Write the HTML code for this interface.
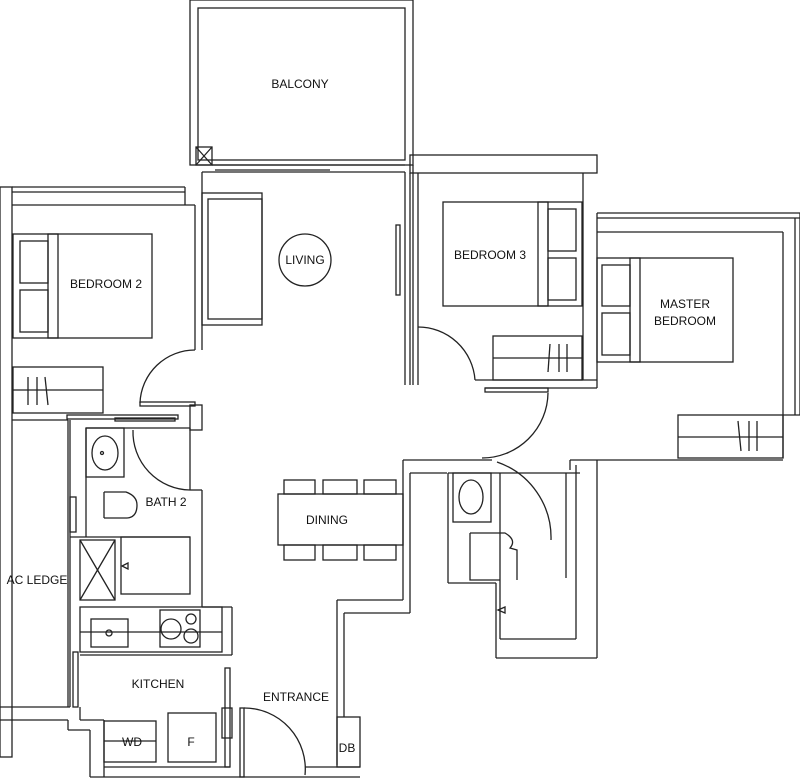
<!DOCTYPE html>
<html><head><meta charset="utf-8"><style>
html,body{margin:0;padding:0;background:#fff;}
svg{display:block;}
text{font-family:"Liberation Sans",sans-serif;font-size:12px;fill:#111;text-anchor:middle;}
</style></head><body>
<svg width="800" height="781" viewBox="0 0 800 781" xmlns="http://www.w3.org/2000/svg">
<g fill="none" stroke="#222" stroke-width="1.3">
<!-- Balcony -->
<rect x="190" y="0" width="223" height="165"/>
<rect x="198" y="8" width="207" height="152"/>
<rect x="196" y="147" width="16" height="18"/>
<line x1="196" y1="147" x2="212" y2="165"/><line x1="212" y1="147" x2="196" y2="165"/>
<line x1="212" y1="165" x2="405" y2="165"/><line x1="215" y1="170" x2="330" y2="170"/>
<!-- Living walls -->
<line x1="202" y1="172" x2="405" y2="172"/>
<line x1="202" y1="172" x2="202" y2="350"/>
<line x1="195" y1="205" x2="195" y2="350"/>
<line x1="413" y1="165" x2="413" y2="385"/>
<line x1="405" y1="172" x2="405" y2="385"/>
<rect x="396" y="225" width="4" height="70"/>
<!-- Sofa -->
<rect x="202" y="193" width="60" height="132"/>
<rect x="208" y="199" width="54" height="120"/>
<circle cx="305" cy="260" r="26"/>
<!-- Bedroom 2 -->
<rect x="0" y="187" width="12" height="570"/>
<line x1="12" y1="187" x2="185" y2="187"/><line x1="12" y1="192" x2="185" y2="192"/>
<line x1="185" y1="187" x2="185" y2="205"/>
<line x1="12" y1="205" x2="195" y2="205"/>
<rect x="13" y="234" width="139" height="104"/>
<rect x="48" y="234" width="10" height="104"/>
<rect x="20" y="241" width="28" height="42"/><rect x="20" y="290" width="28" height="42"/>
<rect x="13" y="367" width="90" height="46"/><line x1="13" y1="390" x2="103" y2="390"/>
<line x1="28" y1="377" x2="28" y2="405"/><line x1="37" y1="377" x2="37" y2="405"/><line x1="45" y1="377" x2="48" y2="405"/>
<path d="M140 403 A55 55 0 0 1 195 350"/>
<rect x="140" y="402" width="55" height="4"/>
<line x1="12" y1="420" x2="68" y2="420"/>
<rect x="67" y="415" width="111" height="4"/>
<rect x="115" y="418" width="60" height="3"/>
<rect x="190" y="405" width="12" height="25"/>
<!-- Bedroom 3 -->
<rect x="410" y="155" width="187" height="18"/>
<line x1="418" y1="173" x2="418" y2="385"/><line x1="410" y1="173" x2="410" y2="385"/>
<line x1="583" y1="173" x2="583" y2="380"/>
<rect x="443" y="202" width="139" height="104"/>
<rect x="538" y="202" width="10" height="104"/>
<rect x="548" y="209" width="28" height="42"/><rect x="548" y="258" width="28" height="42"/>
<rect x="493" y="336" width="89" height="44"/><line x1="493" y1="358" x2="582" y2="358"/>
<line x1="550" y1="344" x2="548" y2="372"/><line x1="559" y1="344" x2="559" y2="372"/><line x1="567" y1="344" x2="567" y2="372"/>
<path d="M418 327 A57 57 0 0 1 475 380"/>
<line x1="475" y1="380" x2="597" y2="380"/><line x1="485" y1="388" x2="597" y2="388"/>
<!-- Master -->
<line x1="597" y1="213" x2="800" y2="213"/><line x1="597" y1="218" x2="800" y2="218"/>
<line x1="597" y1="213" x2="597" y2="388"/>
<line x1="597" y1="232" x2="783" y2="232"/>
<line x1="783" y1="232" x2="783" y2="458"/>
<line x1="795" y1="218" x2="795" y2="415"/><line x1="800" y1="213" x2="800" y2="415"/>
<line x1="783" y1="415" x2="800" y2="415"/>
<rect x="597" y="258" width="136" height="104"/>
<rect x="630" y="258" width="10" height="104"/>
<rect x="602" y="265" width="28" height="41"/><rect x="602" y="313" width="28" height="42"/>
<rect x="678" y="415" width="105" height="43"/><line x1="678" y1="437" x2="783" y2="437"/>
<line x1="738" y1="421" x2="741" y2="451"/><line x1="749" y1="421" x2="749" y2="451"/><line x1="757" y1="421" x2="757" y2="451"/>
<line x1="570" y1="460" x2="783" y2="460"/><line x1="570" y1="460" x2="570" y2="470"/>
<!-- corridor door -->
<rect x="485" y="388" width="63" height="4"/>
<path d="M548 393 A66 66 0 0 1 482 458"/>
<!-- right bath -->
<line x1="403" y1="460" x2="492" y2="460"/>
<line x1="410" y1="473" x2="447" y2="473"/>
<line x1="403" y1="460" x2="403" y2="600"/><line x1="410" y1="473" x2="410" y2="613"/>
<line x1="403" y1="600" x2="337" y2="600"/><line x1="410" y1="613" x2="344" y2="613"/>
<line x1="337" y1="600" x2="337" y2="765"/><line x1="344" y1="613" x2="344" y2="717"/>
<rect x="337" y="717" width="23" height="50"/>
<line x1="448" y1="473" x2="448" y2="583"/><line x1="448" y1="583" x2="496" y2="583"/>
<line x1="496" y1="583" x2="496" y2="658"/><line x1="496" y1="658" x2="597" y2="658"/>
<line x1="500" y1="473" x2="500" y2="639"/><line x1="500" y1="639" x2="576" y2="639"/>
<line x1="448" y1="473" x2="580" y2="473"/>
<line x1="566" y1="473" x2="566" y2="578"/><line x1="576" y1="465" x2="576" y2="639"/>
<line x1="597" y1="460" x2="597" y2="658"/>
<rect x="453" y="473" width="38" height="49"/>
<ellipse cx="471" cy="497" rx="12" ry="17"/>
<path d="M470 533 L505 533 Q517 540 510 548 L517 550 L517 580 M470 533 L470 580 L500 580"/>
<path d="M497 462 A80 80 0 0 1 551 540"/>
<path d="M505 607 L498 610 L505 613 Z"/>
<!-- Dining -->
<rect x="278" y="494" width="125" height="51"/>
<rect x="284" y="480" width="31" height="14"/><rect x="323" y="480" width="34" height="14"/><rect x="364" y="480" width="32" height="14"/>
<rect x="284" y="545" width="31" height="15"/><rect x="323" y="545" width="34" height="15"/><rect x="364" y="545" width="32" height="15"/>
<!-- Bath 2 / kitchen -->
<line x1="68" y1="420" x2="68" y2="707"/><line x1="70" y1="420" x2="70" y2="707"/>
<line x1="86" y1="428" x2="190" y2="428"/><line x1="86" y1="428" x2="86" y2="537"/>
<rect x="86" y="428" width="38" height="49"/>
<ellipse cx="105" cy="453" rx="13" ry="17"/><circle cx="102" cy="453" r="1.5"/>
<path d="M133 430 A58 58 0 0 0 190 490"/>
<line x1="190" y1="428" x2="190" y2="490"/><line x1="190" y1="490" x2="202" y2="490"/>
<line x1="202" y1="490" x2="202" y2="607"/><line x1="202" y1="607" x2="232" y2="607"/>
<line x1="232" y1="607" x2="232" y2="655"/>
<line x1="104" y1="492" x2="104" y2="518"/>
<path d="M104 492 L126 492 Q137 496 137 505 Q137 518 126 518 L104 518"/>
<rect x="70" y="497" width="6" height="35"/>
<line x1="70" y1="537" x2="190" y2="537"/>
<rect x="80" y="540" width="35" height="60"/>
<line x1="80" y1="540" x2="115" y2="600"/><line x1="115" y1="540" x2="80" y2="600"/>
<rect x="121" y="537" width="69" height="57"/>
<path d="M128 563 L122 566 L128 569 Z"/>
<rect x="80" y="607" width="142" height="45"/><line x1="80" y1="632" x2="222" y2="632"/>
<rect x="91" y="619" width="37" height="28"/><circle cx="109" cy="633" r="3"/>
<rect x="160" y="610" width="40" height="37"/><circle cx="171" cy="629" r="10"/><circle cx="191" cy="619" r="5"/><circle cx="191" cy="636" r="7"/>
<line x1="80" y1="655" x2="232" y2="655"/>
<rect x="73" y="652" width="5" height="55"/>
<line x1="0" y1="707" x2="70" y2="707"/><line x1="0" y1="720" x2="68" y2="720"/>
<line x1="68" y1="720" x2="68" y2="730"/><line x1="68" y1="730" x2="90" y2="730"/>
<line x1="90" y1="730" x2="90" y2="777"/><line x1="80" y1="707" x2="80" y2="720"/>
<line x1="80" y1="720" x2="104" y2="720"/><line x1="104" y1="720" x2="104" y2="777"/>
<rect x="104" y="721" width="52" height="41"/><line x1="104" y1="741" x2="156" y2="741"/>
<rect x="168" y="713" width="48" height="49"/>
<line x1="90" y1="777" x2="360" y2="777"/><line x1="104" y1="767" x2="230" y2="767"/>
<rect x="225" y="668" width="5" height="99"/><rect x="222" y="708" width="10" height="30"/>
<rect x="240" y="708" width="4" height="69"/>
<path d="M244 708 A61 61 0 0 1 305 775"/>
<line x1="305" y1="767" x2="360" y2="767"/>
</g>
<text x="300" y="88">BALCONY</text>
<text x="305" y="264">LIVING</text>
<text x="106" y="288">BEDROOM 2</text>
<text x="490" y="259">BEDROOM 3</text>
<text x="685" y="308">MASTER</text>
<text x="685" y="325">BEDROOM</text>
<text x="166" y="506">BATH 2</text>
<text x="327" y="524">DINING</text>
<text x="37" y="584">AC LEDGE</text>
<text x="158" y="688">KITCHEN</text>
<text x="296" y="701">ENTRANCE</text>
<text x="132" y="746">WD</text>
<text x="191" y="746">F</text>
<text x="347" y="752">DB</text>
</svg>
</body></html>
